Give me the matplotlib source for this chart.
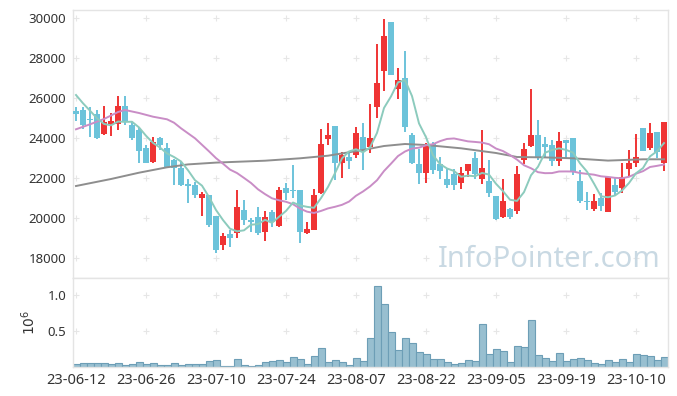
import numpy as np
import pandas as pd
import matplotlib.pyplot as plt

plt.rcParams['font.family'] = ['Noto Sans', 'DejaVu Sans']

# daily candles (KRW)
opens = [25350, 25400, 24950, 25200, 24215, 24720, 24685, 25600, 24650, 24400,
         23515, 22815, 23985, 23485, 22900, 22485, 21685, 21635, 21015, 21150,
         20100, 18650, 19200, 19265, 20400, 19900, 20035, 19315, 20300, 19600,
         21485, 21400, 21400, 19235, 19400, 21235, 23965, 24600, 22765, 23065,
         23135, 24065, 23535, 25565, 27365, 29800, 26465, 26985, 24150, 22700,
         22265, 23700, 22700, 21935, 22200, 21765, 22350, 22985, 21935, 21850,
         21100, 20065, 20435, 20335, 22900, 23615, 24150, 23700, 23650, 22865,
         23900, 23985, 21865, 20865, 20435, 20985, 20315, 21650, 21485, 22435,
         22735, 24485, 23515, 24315, 22765]
highs = [25550, 25570, 25570, 25400, 25600, 25235, 26100, 26100, 24815, 24565,
         23650, 24035, 24035, 23765, 22950, 22815, 21950, 21815, 21315, 21150,
         20100, 19265, 19400, 21400, 20900, 19985, 20535, 20365, 20400, 21565,
         21735, 22650, 21400, 19815, 21435, 24435, 24765, 24600, 23315, 23315,
         24535, 24735, 25685, 28700, 29935, 29800, 27485, 28350, 24265, 23435,
         23765, 23815, 23065, 22485, 22435, 22535, 22700, 23315, 24400, 22900,
         21100, 21935, 20500, 22600, 23735, 26435, 24900, 24065, 23900, 24315,
         23900, 23985, 22400, 21315, 21200, 21235, 22065, 22035, 22765, 23400,
         24185, 24485, 24735, 24315, 24785]
lows = [24850, 24430, 24070, 23930, 24150, 24100, 24400, 24650, 23900, 22765,
        22735, 22735, 23400, 22485, 21650, 21600, 20735, 21015, 20115, 19550,
        18265, 18400, 18565, 18985, 19650, 19315, 19150, 18850, 19535, 19535,
        20900, 20985, 18765, 19200, 19400, 21200, 23650, 21900, 21985, 22435,
        22985, 22400, 23265, 24985, 26365, 27150, 25935, 24315, 22700, 21700,
        21735, 22200, 21935, 21485, 21400, 21435, 22065, 21935, 21685, 21065,
        19900, 19985, 19950, 20200, 22700, 23535, 22900, 22985, 22600, 22600,
        22985, 22150, 20765, 20400, 20365, 20365, 20315, 21100, 21235, 22100,
        22565, 23365, 23400, 22985, 22365]
closes = [25200, 24650, 24900, 23980, 24785, 24850, 25600, 24815, 24015, 23365,
          22765, 23815, 23650, 22535, 22485, 21650, 21615, 21150, 21185, 19650,
          18400, 19100, 18985, 20535, 19900, 19800, 19265, 20035, 19800, 21400,
          21265, 21365, 19315, 19450, 21150, 23700, 24150, 22765, 23150, 22865,
          24265, 23365, 24015, 26765, 29100, 27150, 26900, 24565, 22765, 22265,
          23700, 22400, 22365, 21650, 21650, 22235, 22700, 22200, 22485, 21235,
          19935, 20850, 20065, 22185, 23435, 24150, 22985, 23565, 22865, 23850,
          23765, 22315, 20865, 20800, 20850, 20600, 22065, 21315, 22035, 22735,
          23035, 23365, 24235, 23315, 24785]
volumes = [41000, 55000, 55000, 55000, 55000, 46000, 55000, 32000, 46000, 69000,
           46000, 55000, 32000, 32000, 55000, 32000, 46000, 46000, 46000, 87000,
           100000, 18000, 18000, 110000, 32000, 18000, 32000, 73000, 87000, 100000,
           73000, 138000, 115000, 46000, 156000, 260000, 73000, 100000, 69000, 23000,
           124000, 87000, 400000, 1120000, 870000, 480000, 240000, 400000, 330000, 207000,
           179000, 110000, 110000, 69000, 41000, 55000, 100000, 87000, 600000, 179000,
           248000, 225000, 69000, 290000, 276000, 650000, 165000, 124000, 87000, 193000,
           87000, 110000, 124000, 100000, 55000, 41000, 100000, 69000, 110000, 69000,
           179000, 165000, 152000, 100000, 138000]

tick_pos = [0, 10, 20, 30, 40, 50, 60, 70, 80]
tick_labels = ['23-06-12', '23-06-26', '23-07-10', '23-07-24', '23-08-07',
               '23-08-22', '23-09-05', '23-09-19', '23-10-10']

# moving averages before enough history is visible
ma5_head = [26150, 25735, 25365, 24985]
ma20_head_x = [0, 2, 4, 6, 7, 9, 11, 13, 14, 15, 17]
ma20_head = [24435, 24685, 24950, 25300, 25400, 25250, 25065, 24935, 24765, 24485, 23985]
ma60_x = [0, 5, 9, 13, 16, 20, 27, 32, 36, 41, 44, 47, 50, 55, 60, 63, 67, 71, 76, 81, 84]
ma60 = [21600, 21950, 22265, 22535, 22680, 22770, 22865, 22985, 23115, 23400, 23600,
        23700, 23650, 23485, 23250, 23050, 23030, 22985, 22870, 22935, 22935]

df = pd.DataFrame({'open': opens, 'high': highs, 'low': lows,
                   'close': closes, 'volume': volumes})
x = np.arange(len(df))
ma5 = df['close'].rolling(5).mean()
ma5.iloc[:4] = ma5_head
ma20 = df['close'].rolling(20).mean()

red = '#ef3434'
blue = '#6cc3da'
up = df['close'] >= df['open']
colors = np.where(up, red, blue)

fig = plt.figure(figsize=(6.77, 3.96), dpi=100)
ax = fig.add_axes([73 / 677, 118 / 396, 595 / 677, 268 / 396])
axv = fig.add_axes([73 / 677, 29 / 396, 595 / 677, 89 / 396], sharex=ax)

# candles
ax.vlines(x, df['low'], df['high'], colors=colors, linewidth=1.4, zorder=2)
body_low = np.minimum(df['open'], df['close'])
body_h = np.maximum(np.abs(df['close'] - df['open']), 50)
ax.bar(x, body_h, bottom=body_low, width=0.72, color=colors, zorder=3)

# moving averages
ax.plot(ma60_x, ma60, color='#8e8e8e', lw=1.4, zorder=4)
ax.plot(ma20_head_x + list(x[19:]), ma20_head + list(ma20.iloc[19:]),
        color='#c98dc6', lw=1.4, zorder=4)
ax.plot(x, ma5, color='#8ccbbd', lw=1.4, zorder=4)

ax.text(0.80, 0.04, 'InfoPointer.com', transform=ax.transAxes, ha='center',
        va='baseline', fontsize=21, color='#c9d9e3', zorder=1)

# volume
axv.bar(x, df['volume'] / 1e6, width=1.0, color='#98bfd0', edgecolor='#6d9eb6',
        linewidth=0.8)

ax.set_xlim(-0.43, 84.57)
ax.set_ylim(17000, 30400)
axv.set_ylim(0, 1.234)

ax_ticks = [18000, 20000, 22000, 24000, 26000, 28000, 30000]
ax.set_yticks(ax_ticks)
axv.set_yticks([0.5, 1.0])
axv.set_yticklabels(['0.5', '1.0'])
axv.set_xticks(tick_pos)
axv.set_xticklabels(tick_labels)
axv.set_ylabel('$10^6$', fontsize=10, color='#333333', labelpad=6)

# grid drawn as small crosses at the tick intersections
gx, gy = np.meshgrid(tick_pos, ax_ticks)
ax.scatter(gx.ravel(), gy.ravel(), marker='+', s=16, color='#e6e6e6', lw=0.8, zorder=0)
gx, gy = np.meshgrid(tick_pos, [0.5, 1.0])
axv.scatter(gx.ravel(), gy.ravel(), marker='+', s=16, color='#e6e6e6', lw=0.8, zorder=0)

for a in (ax, axv):
    a.tick_params(length=0, labelsize=9.5, labelcolor='#333333', pad=5)
    for s in a.spines.values():
        s.set_color('#e4e4e4')
        s.set_linewidth(1.0)
ax.tick_params(axis='x', labelbottom=False)
axv.tick_params(axis='x', labelsize=10.5, pad=4)

fig.savefig('out.png', dpi=100)
